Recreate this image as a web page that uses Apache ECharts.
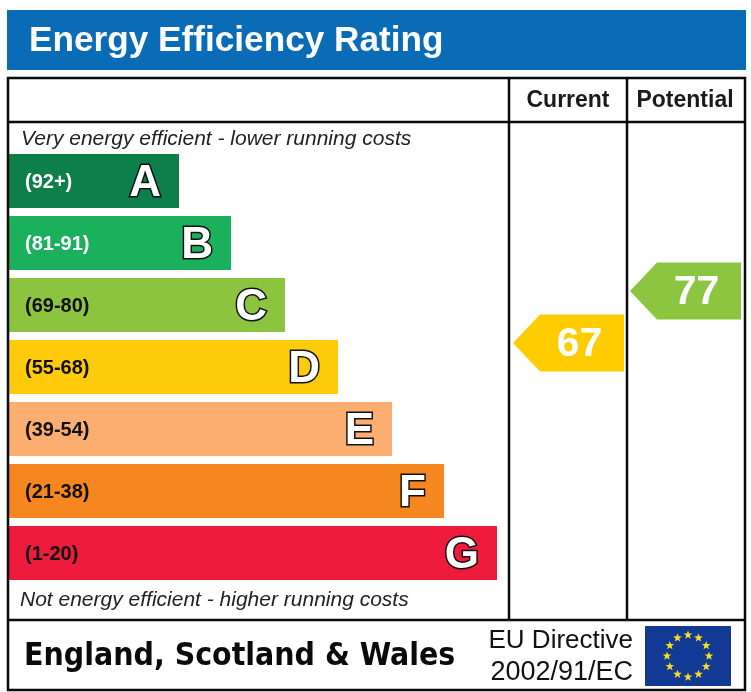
<!DOCTYPE html>
<html><head><meta charset="utf-8">
<script src="https://cdn.jsdelivr.net/npm/echarts@6/dist/echarts.min.js"></script>
<style>html,body{margin:0;padding:0;background:#fff}#c{width:751px;height:692px}</style>
</head><body><div id="c"></div>
<script>
var bands = ['A','B','C','D','E','F','G'];
var ranges = ['(92+)','(81-91)','(69-80)','(55-68)','(39-54)','(21-38)','(1-20)'];
var barLengths = [170,222,276,329,383,435,488];
var barColors = ['#0d7f4b','#1bb05b','#8cc43f','#fdcb0a','#fbae6f','#f6861f','#ee1b3d'];
var rangeColors = ['#fff','#fff','#111','#111','#111','#111','#111'];
var ratingColumns = ['Current','Potential'];
var ratingValues = [67,77];
var ratingColors = ['#ffcc00','#8cc540'];
var F = '"Liberation Sans", Arial, sans-serif';

var chart = echarts.init(document.getElementById('c'), null, {renderer:'canvas'});

function line(x1,y1,x2,y2,w){
  return {type:'line',silent:true,z:10,shape:{x1:x1,y1:y1,x2:x2,y2:y2},style:{stroke:'#0a0a0a',lineWidth:w||2.5}};
}
function txt(x,y,t,font,fill,align){
  return {type:'text',silent:true,z:11,x:x,y:y,style:{text:t,font:font,fill:fill||'#111',textAlign:align||'left',textVerticalAlign:'middle'}};
}
var g = [
  {type:'rect',silent:true,z:1,shape:{x:7,y:10,width:739,height:60},style:{fill:'#0a6cb6'}},
  txt(29,41,'Energy Efficiency Rating','bold 35.2px '+F,'#fff'),
  {type:'rect',silent:true,z:10,shape:{x:8,y:78,width:737,height:612},style:{fill:'none',stroke:'#0a0a0a',lineWidth:2.5}},
  line(8,122,745,122), line(8,620,745,620), line(509,78,509,620), line(627,78,627,620),
  txt(568,101,'Current','bold 23px '+F,'#1a1a1a','center'),
  txt(685,101,'Potential','bold 23px '+F,'#1a1a1a','center'),
  txt(21,139,'Very energy efficient - lower running costs','italic 21px '+F,'#222'),
  txt(20,600,'Not energy efficient - higher running costs','italic 21px '+F,'#222'),
  txt(24,657,'England, Scotland & Wales','bold 31.7px "DejaVu Sans Condensed", "DejaVu Sans", sans-serif','#0a0a0a'),
  txt(633,641,'EU Directive','26px '+F,'#111','right'),
  txt(633,673,'2002/91/EC','27px '+F,'#111','right'),
  {type:'rect',silent:true,z:10,shape:{x:645,y:626,width:86,height:60},style:{fill:'#123a94'}}
];
for (var i=0;i<12;i++){
  var a=i*Math.PI/6, cx=688+21*Math.sin(a), cy=656-21*Math.cos(a), pts=[];
  for (var k=0;k<10;k++){
    var r=k%2?1.9:4.6, b=k*Math.PI/5;
    pts.push([cx+r*Math.sin(b),cy-r*Math.cos(b)]);
  }
  g.push({type:'polygon',silent:true,z:11,shape:{points:pts},style:{fill:'#f7e01a'}});
}

var option = {
  animation:false,
  backgroundColor:'#fff',
  textStyle:{fontFamily:F},
  graphic:{elements:g},
  grid:[
    {left:9,top:150,width:488,height:434},
    {left:510,top:150,width:234,height:434}
  ],
  xAxis:[
    {gridIndex:0,type:'value',min:0,max:488,show:false},
    {gridIndex:1,type:'category',data:ratingColumns,show:false}
  ],
  yAxis:[
    {gridIndex:0,type:'category',data:bands,inverse:true,show:false},
    {gridIndex:1,type:'value',min:20.65,max:104.1,show:false}
  ],
  series:[
    {type:'bar',xAxisIndex:0,yAxisIndex:0,barWidth:54,z:3,
      data:barLengths.map(function(v,i){return {value:v,itemStyle:{color:barColors[i]}};}),
      label:{show:true,position:'insideRight',distance:18,offset:[0,3],
        formatter:function(p){return bands[p.dataIndex];},
        fontFamily:F,fontWeight:'bold',fontSize:44,color:'#fff',
        textBorderColor:'#111',textBorderWidth:3}},
    {type:'bar',xAxisIndex:0,yAxisIndex:0,barWidth:54,barGap:'-100%',z:4,
      data:barLengths.map(function(v,i){return {value:v,
        label:{color:rangeColors[i]}};}),
      itemStyle:{color:'rgba(0,0,0,0)'},
      label:{show:true,position:'insideLeft',distance:16,offset:[0,1],
        formatter:function(p){return ranges[p.dataIndex];},
        fontFamily:F,fontWeight:'bold',fontSize:20}},
    {type:'scatter',xAxisIndex:1,yAxisIndex:1,z:5,
      symbol:'path://M0 50 L27 0 L111 0 L111 100 L27 100 Z',
      symbolKeepAspect:false,
      symbolSize:[111,57],
      data:ratingValues.map(function(v,i){return {value:[ratingColumns[i],v],itemStyle:{color:ratingColors[i],opacity:1}};}),
      label:{show:true,position:'inside',offset:[11,2],
        formatter:function(p){return p.value[1];},
        fontFamily:F,fontWeight:'bold',fontSize:41,color:'#fff'}}
  ]
};
chart.setOption(option);
</script></body></html>
